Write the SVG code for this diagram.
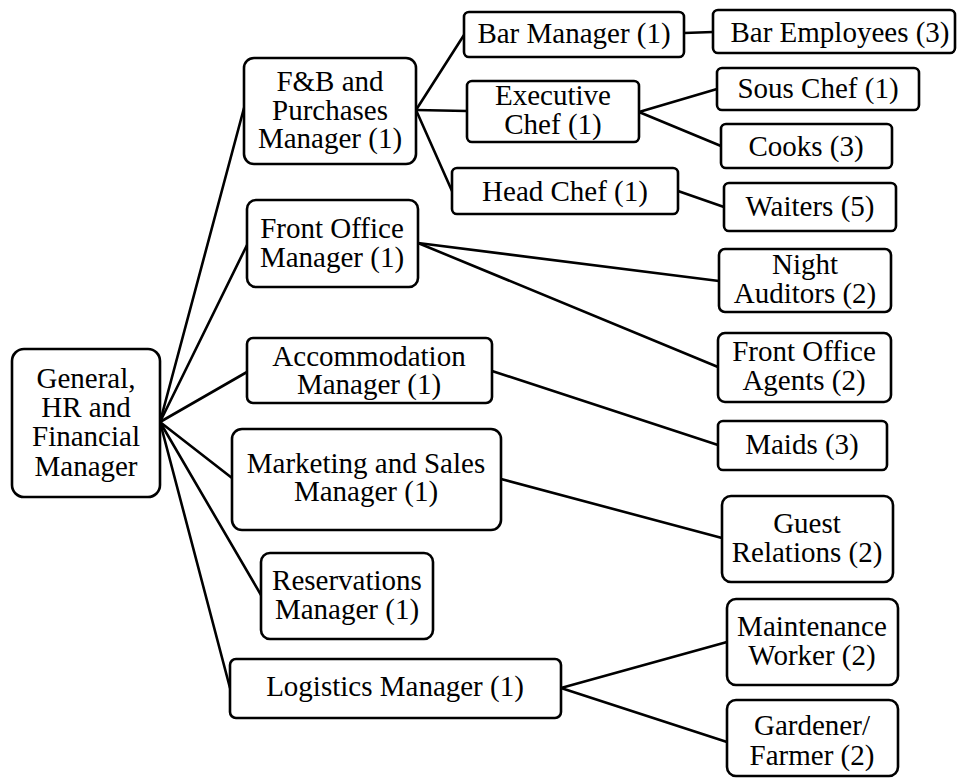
<svg xmlns="http://www.w3.org/2000/svg" width="958" height="780" viewBox="0 0 958 780">
  <style>
    .box { fill: #ffffff; stroke: #000000; stroke-width: 2.6; }
    .lbl { font-family: "Liberation Serif", "Times New Roman", serif; font-size: 29px; fill: #000000; text-anchor: middle; }
    .links line { stroke: #000000; stroke-width: 2.6; stroke-linecap: round; }
  </style>
  <rect width="958" height="780" fill="#ffffff"/>

  <!-- reporting lines -->
  <g id="connectors" class="links">
    <line x1="160" y1="422" x2="244" y2="108"/>
    <line x1="160" y1="422" x2="247" y2="245"/>
    <line x1="160" y1="422" x2="247" y2="372"/>
    <line x1="160" y1="422" x2="232" y2="478"/>
    <line x1="160" y1="422" x2="261" y2="595"/>
    <line x1="160" y1="422" x2="230" y2="688"/>
    <line x1="416" y1="110" x2="464" y2="35"/>
    <line x1="416" y1="110" x2="467" y2="111"/>
    <line x1="416" y1="110" x2="452" y2="191"/>
    <line x1="684" y1="33" x2="713" y2="32"/>
    <line x1="639" y1="112" x2="717" y2="89"/>
    <line x1="639" y1="112" x2="721" y2="146"/>
    <line x1="678" y1="191" x2="724" y2="207"/>
    <line x1="418" y1="243" x2="719" y2="281"/>
    <line x1="418" y1="243" x2="718" y2="367"/>
    <line x1="492" y1="371" x2="718" y2="445"/>
    <line x1="501" y1="479" x2="722" y2="538"/>
    <line x1="561" y1="688" x2="727" y2="642"/>
    <line x1="561" y1="688" x2="727" y2="742"/>
  </g>

  <g id="general">
    <rect class="box" x="12" y="349" width="148" height="148" rx="12"/>
    <text class="lbl"><tspan x="86" y="388">General,</tspan><tspan x="86" y="417">HR and</tspan><tspan x="86" y="446">Financial</tspan><tspan x="86" y="476">Manager</tspan></text>
  </g>

  <g id="fb-manager">
    <rect class="box" x="244" y="58" width="172" height="106" rx="10"/>
    <text class="lbl"><tspan x="330" y="91">F&amp;B and</tspan><tspan x="330" y="120">Purchases</tspan><tspan x="330" y="148">Manager (1)</tspan></text>
  </g>

  <g id="front-office-manager">
    <rect class="box" x="247" y="200" width="171" height="87" rx="9"/>
    <text class="lbl"><tspan x="332" y="238">Front Office</tspan><tspan x="332" y="267">Manager (1)</tspan></text>
  </g>

  <g id="accommodation-manager">
    <rect class="box" x="247" y="338" width="245" height="65" rx="6"/>
    <text class="lbl"><tspan x="369" y="366">Accommodation</tspan><tspan x="369" y="394">Manager (1)</tspan></text>
  </g>

  <g id="marketing-manager">
    <rect class="box" x="232" y="429" width="269" height="101" rx="10"/>
    <text class="lbl"><tspan x="366" y="473">Marketing and Sales</tspan><tspan x="366" y="501">Manager (1)</tspan></text>
  </g>

  <g id="reservations-manager">
    <rect class="box" x="261" y="553" width="172" height="86" rx="9"/>
    <text class="lbl"><tspan x="347" y="590">Reservations</tspan><tspan x="347" y="619">Manager (1)</tspan></text>
  </g>

  <g id="logistics-manager">
    <rect class="box" x="230" y="659" width="331" height="59" rx="6"/>
    <text class="lbl" x="395" y="696">Logistics Manager (1)</text>
  </g>

  <g id="bar-manager">
    <rect class="box" x="464" y="12" width="220" height="45" rx="5"/>
    <text class="lbl" x="574" y="43">Bar Manager (1)</text>
  </g>

  <g id="bar-employees">
    <rect class="box" x="713" y="10" width="242" height="43" rx="5"/>
    <text class="lbl" x="840" y="42">Bar Employees (3)</text>
  </g>

  <g id="executive-chef">
    <rect class="box" x="467" y="81" width="172" height="61" rx="5"/>
    <text class="lbl"><tspan x="553" y="105">Executive</tspan><tspan x="553" y="134">Chef (1)</tspan></text>
  </g>

  <g id="head-chef">
    <rect class="box" x="452" y="168" width="226" height="46" rx="5"/>
    <text class="lbl" x="565" y="201">Head Chef (1)</text>
  </g>

  <g id="sous-chef">
    <rect class="box" x="717" y="68" width="202" height="42" rx="5"/>
    <text class="lbl" x="818" y="98">Sous Chef (1)</text>
  </g>

  <g id="cooks">
    <rect class="box" x="721" y="124" width="171" height="44" rx="5"/>
    <text class="lbl" x="806" y="156">Cooks (3)</text>
  </g>

  <g id="waiters">
    <rect class="box" x="724" y="183" width="172" height="48" rx="5"/>
    <text class="lbl" x="810" y="216">Waiters (5)</text>
  </g>

  <g id="night-auditors">
    <rect class="box" x="719" y="249" width="172" height="63" rx="6"/>
    <text class="lbl"><tspan x="805" y="274">Night</tspan><tspan x="805" y="303">Auditors (2)</tspan></text>
  </g>

  <g id="front-office-agents">
    <rect class="box" x="718" y="333" width="173" height="69" rx="7"/>
    <text class="lbl"><tspan x="804" y="361">Front Office</tspan><tspan x="804" y="390">Agents (2)</tspan></text>
  </g>

  <g id="maids">
    <rect class="box" x="718" y="421" width="169" height="49" rx="5"/>
    <text class="lbl" x="802" y="454">Maids (3)</text>
  </g>

  <g id="guest-relations">
    <rect class="box" x="722" y="496" width="171" height="86" rx="9"/>
    <text class="lbl"><tspan x="807" y="533">Guest</tspan><tspan x="807" y="562">Relations (2)</tspan></text>
  </g>

  <g id="maintenance-worker">
    <rect class="box" x="727" y="599" width="171" height="86" rx="9"/>
    <text class="lbl"><tspan x="812" y="636">Maintenance</tspan><tspan x="812" y="665">Worker (2)</tspan></text>
  </g>

  <g id="gardener-farmer">
    <rect class="box" x="727" y="700" width="171" height="76" rx="9"/>
    <text class="lbl"><tspan x="812" y="735">Gardener/</tspan><tspan x="812" y="765">Farmer (2)</tspan></text>
  </g>
</svg>
